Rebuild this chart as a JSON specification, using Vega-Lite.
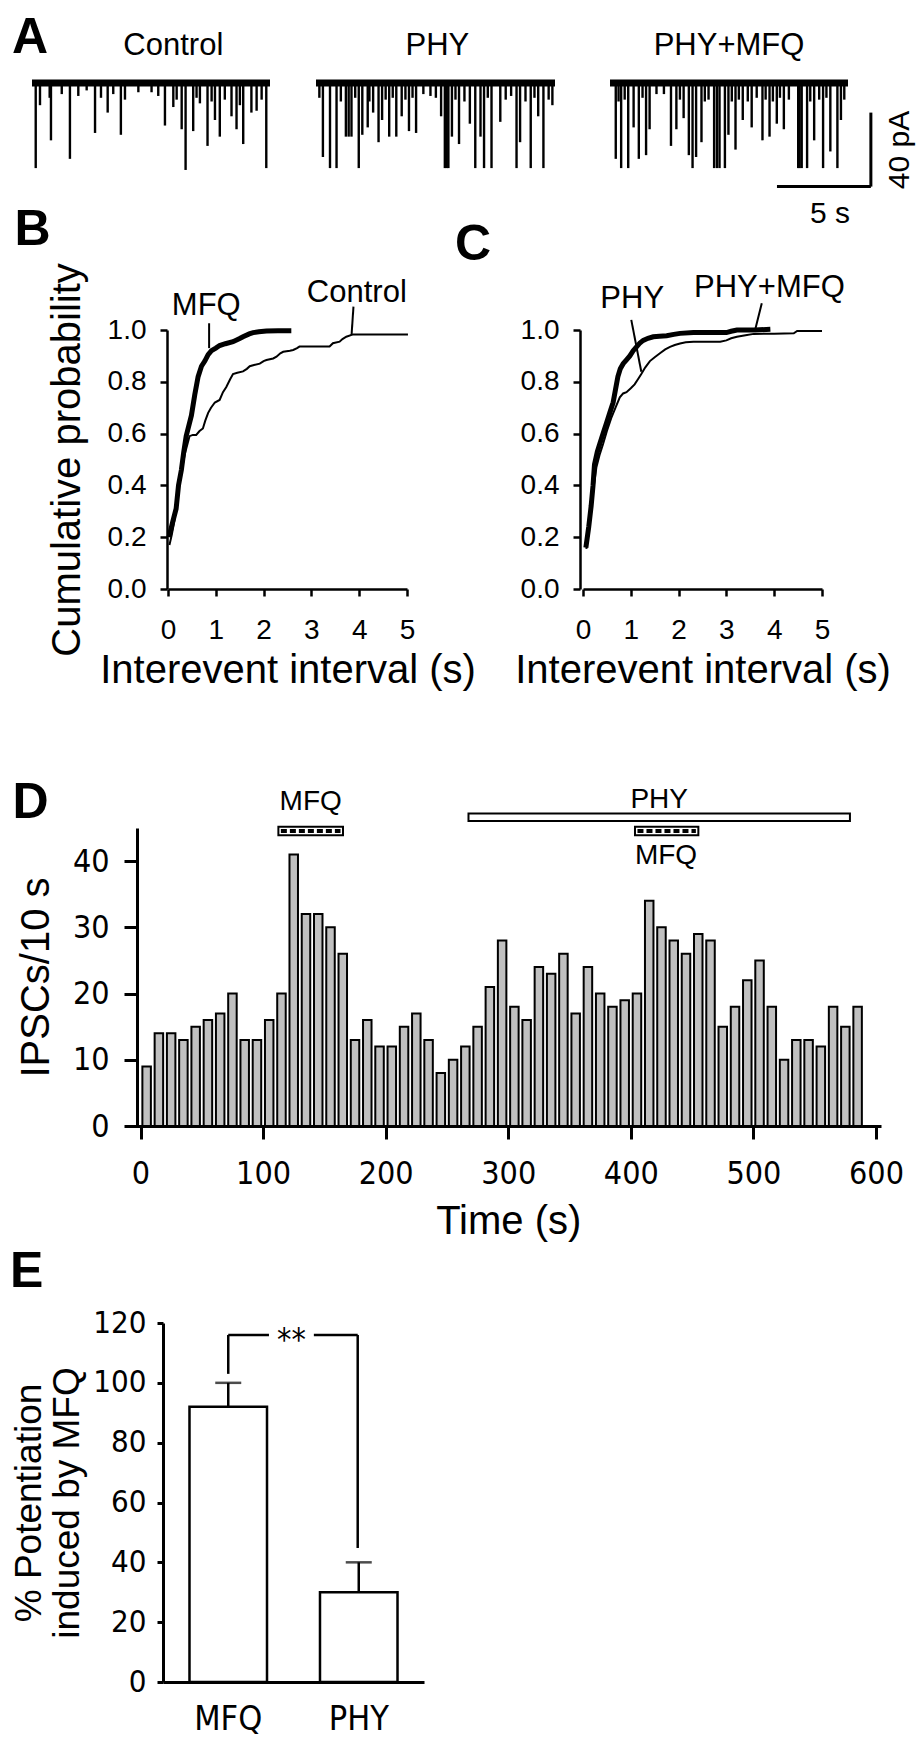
{
"$schema":"https://vega.github.io/schema/vega-lite/v6.json",
"width":919,"height":1737,"autosize":{"type":"none"},"padding":0,"background":"white",
"config":{"view":{"stroke":null},
 "axis":{"grid":false,"domainColor":"black","tickColor":"black","labelColor":"black","titleColor":"black","labelFont":"Liberation Sans","titleFont":"Liberation Sans","titleFontWeight":"normal","domainWidth":2.5,"tickWidth":2.5,"labelFlush":false,"labelOverlap":false},
 "text":{"font":"Liberation Sans","color":"black"},"rule":{"color":"black"},"line":{"color":"black"}},
"datasets":{
 "events":[
  {"trace":"Control","t":0.2,"current":-46},{"trace":"Control","t":0.43,"current":-12},{"trace":"Control","t":0.95,"current":-8},{"trace":"Control","t":1.02,"current":-31},{"trace":"Control","t":1.6,"current":-6},{"trace":"Control","t":2.04,"current":-41},{"trace":"Control","t":2.49,"current":-7},{"trace":"Control","t":2.94,"current":-4},{"trace":"Control","t":3.39,"current":-27},{"trace":"Control","t":3.71,"current":-8},{"trace":"Control","t":4.07,"current":-16},{"trace":"Control","t":4.37,"current":-6},{"trace":"Control","t":4.78,"current":-28},{"trace":"Control","t":5.0,"current":-9},{"trace":"Control","t":5.72,"current":-5},{"trace":"Control","t":6.43,"current":-5},{"trace":"Control","t":6.79,"current":-7},{"trace":"Control","t":7.15,"current":-23},{"trace":"Control","t":7.6,"current":-13},{"trace":"Control","t":7.78,"current":-9},{"trace":"Control","t":8.05,"current":-25},{"trace":"Control","t":8.26,"current":-47},{"trace":"Control","t":8.67,"current":-26},{"trace":"Control","t":8.85,"current":-8},{"trace":"Control","t":9.03,"current":-11},{"trace":"Control","t":9.44,"current":-34},{"trace":"Control","t":9.66,"current":-10},{"trace":"Control","t":9.84,"current":-20},{"trace":"Control","t":10.1,"current":-29},{"trace":"Control","t":10.37,"current":-9},{"trace":"Control","t":10.73,"current":-18},{"trace":"Control","t":11.0,"current":-25},{"trace":"Control","t":11.18,"current":-12},{"trace":"Control","t":11.36,"current":-33},{"trace":"Control","t":11.8,"current":-16},{"trace":"Control","t":12.08,"current":-15},{"trace":"Control","t":12.35,"current":-9},{"trace":"Control","t":12.6,"current":-46},
  {"trace":"PHY","t":0.18,"current":-8},{"trace":"PHY","t":0.37,"current":-40},{"trace":"PHY","t":0.75,"current":-46},{"trace":"PHY","t":1.1,"current":-46},{"trace":"PHY","t":1.33,"current":-10},{"trace":"PHY","t":1.6,"current":-29},{"trace":"PHY","t":1.75,"current":-29},{"trace":"PHY","t":1.9,"current":-29},{"trace":"PHY","t":2.1,"current":-8},{"trace":"PHY","t":2.29,"current":-46},{"trace":"PHY","t":2.48,"current":-28},{"trace":"PHY","t":2.77,"current":-24},{"trace":"PHY","t":2.86,"current":-10},{"trace":"PHY","t":3.06,"current":-16},{"trace":"PHY","t":3.35,"current":-32},{"trace":"PHY","t":3.54,"current":-20},{"trace":"PHY","t":3.73,"current":-9},{"trace":"PHY","t":3.92,"current":-29},{"trace":"PHY","t":4.11,"current":-8},{"trace":"PHY","t":4.3,"current":-29},{"trace":"PHY","t":4.59,"current":-18},{"trace":"PHY","t":4.79,"current":-9},{"trace":"PHY","t":4.98,"current":-26},{"trace":"PHY","t":5.17,"current":-8},{"trace":"PHY","t":5.36,"current":-27},{"trace":"PHY","t":5.75,"current":-6},{"trace":"PHY","t":6.13,"current":-7},{"trace":"PHY","t":6.42,"current":-8},{"trace":"PHY","t":6.7,"current":-18},{"trace":"PHY","t":6.9,"current":-46},{"trace":"PHY","t":7.0,"current":-46},{"trace":"PHY","t":7.09,"current":-46},{"trace":"PHY","t":7.28,"current":-29},{"trace":"PHY","t":7.47,"current":-9},{"trace":"PHY","t":7.66,"current":-33},{"trace":"PHY","t":7.95,"current":-10},{"trace":"PHY","t":8.24,"current":-22},{"trace":"PHY","t":8.53,"current":-46},{"trace":"PHY","t":8.81,"current":-29},{"trace":"PHY","t":9.0,"current":-46},{"trace":"PHY","t":9.2,"current":-8},{"trace":"PHY","t":9.4,"current":-46},{"trace":"PHY","t":9.87,"current":-21},{"trace":"PHY","t":10.16,"current":-9},{"trace":"PHY","t":10.45,"current":-7},{"trace":"PHY","t":10.74,"current":-46},{"trace":"PHY","t":10.93,"current":-32},{"trace":"PHY","t":11.22,"current":-10},{"trace":"PHY","t":11.5,"current":-46},{"trace":"PHY","t":11.7,"current":-8},{"trace":"PHY","t":11.9,"current":-18},{"trace":"PHY","t":12.18,"current":-46},{"trace":"PHY","t":12.46,"current":-9},{"trace":"PHY","t":12.66,"current":-12},
  {"trace":"PHY+MFQ","t":0.31,"current":-41},{"trace":"PHY+MFQ","t":0.46,"current":-10},{"trace":"PHY+MFQ","t":0.6,"current":-46},{"trace":"PHY+MFQ","t":0.79,"current":-9},{"trace":"PHY+MFQ","t":0.98,"current":-46},{"trace":"PHY+MFQ","t":1.27,"current":-24},{"trace":"PHY+MFQ","t":1.55,"current":-41},{"trace":"PHY+MFQ","t":1.75,"current":-8},{"trace":"PHY+MFQ","t":1.94,"current":-39},{"trace":"PHY+MFQ","t":2.13,"current":-25},{"trace":"PHY+MFQ","t":2.5,"current":-6},{"trace":"PHY+MFQ","t":2.9,"current":-6},{"trace":"PHY+MFQ","t":3.28,"current":-34},{"trace":"PHY+MFQ","t":3.57,"current":-25},{"trace":"PHY+MFQ","t":3.76,"current":-9},{"trace":"PHY+MFQ","t":3.96,"current":-19},{"trace":"PHY+MFQ","t":4.24,"current":-39},{"trace":"PHY+MFQ","t":4.44,"current":-46},{"trace":"PHY+MFQ","t":4.63,"current":-40},{"trace":"PHY+MFQ","t":4.92,"current":-32},{"trace":"PHY+MFQ","t":5.1,"current":-10},{"trace":"PHY+MFQ","t":5.3,"current":-9},{"trace":"PHY+MFQ","t":5.6,"current":-46},{"trace":"PHY+MFQ","t":5.75,"current":-46},{"trace":"PHY+MFQ","t":5.89,"current":-46},{"trace":"PHY+MFQ","t":6.18,"current":-46},{"trace":"PHY+MFQ","t":6.37,"current":-28},{"trace":"PHY+MFQ","t":6.55,"current":-10},{"trace":"PHY+MFQ","t":6.75,"current":-36},{"trace":"PHY+MFQ","t":6.93,"current":-9},{"trace":"PHY+MFQ","t":7.14,"current":-20},{"trace":"PHY+MFQ","t":7.41,"current":-10},{"trace":"PHY+MFQ","t":7.62,"current":-24},{"trace":"PHY+MFQ","t":7.89,"current":-8},{"trace":"PHY+MFQ","t":8.2,"current":-31},{"trace":"PHY+MFQ","t":8.37,"current":-9},{"trace":"PHY+MFQ","t":8.58,"current":-29},{"trace":"PHY+MFQ","t":8.76,"current":-10},{"trace":"PHY+MFQ","t":8.97,"current":-22},{"trace":"PHY+MFQ","t":9.14,"current":-8},{"trace":"PHY+MFQ","t":9.35,"current":-25},{"trace":"PHY+MFQ","t":9.62,"current":-9},{"trace":"PHY+MFQ","t":10.12,"current":-46},{"trace":"PHY+MFQ","t":10.2,"current":-46},{"trace":"PHY+MFQ","t":10.31,"current":-46},{"trace":"PHY+MFQ","t":10.6,"current":-46},{"trace":"PHY+MFQ","t":10.77,"current":-10},{"trace":"PHY+MFQ","t":10.98,"current":-31},{"trace":"PHY+MFQ","t":11.25,"current":-9},{"trace":"PHY+MFQ","t":11.46,"current":-46},{"trace":"PHY+MFQ","t":11.64,"current":-8},{"trace":"PHY+MFQ","t":11.85,"current":-37},{"trace":"PHY+MFQ","t":12.23,"current":-46},{"trace":"PHY+MFQ","t":12.42,"current":-20},{"trace":"PHY+MFQ","t":12.6,"current":-9}
 ],
 "cdfB":[
  {"cond":"MFQ","x":0.02,"p":0.2},{"cond":"MFQ","x":0.1,"p":0.26},{"cond":"MFQ","x":0.17,"p":0.31},{"cond":"MFQ","x":0.22,"p":0.4},{"cond":"MFQ","x":0.28,"p":0.46},{"cond":"MFQ","x":0.33,"p":0.53},{"cond":"MFQ","x":0.38,"p":0.59},{"cond":"MFQ","x":0.49,"p":0.67},{"cond":"MFQ","x":0.56,"p":0.75},{"cond":"MFQ","x":0.63,"p":0.82},{"cond":"MFQ","x":0.7,"p":0.86},{"cond":"MFQ","x":0.77,"p":0.88},{"cond":"MFQ","x":0.84,"p":0.905},{"cond":"MFQ","x":0.91,"p":0.92},{"cond":"MFQ","x":1.0,"p":0.93},{"cond":"MFQ","x":1.08,"p":0.94},{"cond":"MFQ","x":1.2,"p":0.947},{"cond":"MFQ","x":1.36,"p":0.955},{"cond":"MFQ","x":1.5,"p":0.967},{"cond":"MFQ","x":1.57,"p":0.974},{"cond":"MFQ","x":1.7,"p":0.985},{"cond":"MFQ","x":1.78,"p":0.99},{"cond":"MFQ","x":1.9,"p":0.993},{"cond":"MFQ","x":2.06,"p":0.996},{"cond":"MFQ","x":2.3,"p":0.997},{"cond":"MFQ","x":2.58,"p":0.997},
  {"cond":"Control","x":0.03,"p":0.17},{"cond":"Control","x":0.08,"p":0.21},{"cond":"Control","x":0.14,"p":0.27},{"cond":"Control","x":0.19,"p":0.35},{"cond":"Control","x":0.24,"p":0.42},{"cond":"Control","x":0.3,"p":0.47},{"cond":"Control","x":0.35,"p":0.52},{"cond":"Control","x":0.45,"p":0.59},{"cond":"Control","x":0.52,"p":0.595},{"cond":"Control","x":0.59,"p":0.595},{"cond":"Control","x":0.66,"p":0.61},{"cond":"Control","x":0.73,"p":0.62},{"cond":"Control","x":0.78,"p":0.65},{"cond":"Control","x":0.84,"p":0.68},{"cond":"Control","x":0.9,"p":0.7},{"cond":"Control","x":0.98,"p":0.72},{"cond":"Control","x":1.08,"p":0.73},{"cond":"Control","x":1.15,"p":0.76},{"cond":"Control","x":1.22,"p":0.78},{"cond":"Control","x":1.3,"p":0.81},{"cond":"Control","x":1.36,"p":0.83},{"cond":"Control","x":1.45,"p":0.835},{"cond":"Control","x":1.57,"p":0.84},{"cond":"Control","x":1.65,"p":0.85},{"cond":"Control","x":1.71,"p":0.86},{"cond":"Control","x":1.8,"p":0.865},{"cond":"Control","x":1.92,"p":0.87},{"cond":"Control","x":2.0,"p":0.88},{"cond":"Control","x":2.06,"p":0.884},{"cond":"Control","x":2.2,"p":0.89},{"cond":"Control","x":2.27,"p":0.897},{"cond":"Control","x":2.35,"p":0.91},{"cond":"Control","x":2.41,"p":0.916},{"cond":"Control","x":2.55,"p":0.92},{"cond":"Control","x":2.62,"p":0.923},{"cond":"Control","x":2.7,"p":0.93},{"cond":"Control","x":2.75,"p":0.936},{"cond":"Control","x":3.0,"p":0.936},{"cond":"Control","x":3.38,"p":0.936},{"cond":"Control","x":3.45,"p":0.949},{"cond":"Control","x":3.59,"p":0.955},{"cond":"Control","x":3.65,"p":0.965},{"cond":"Control","x":3.73,"p":0.974},{"cond":"Control","x":3.87,"p":0.983},{"cond":"Control","x":4.2,"p":0.983},{"cond":"Control","x":5.02,"p":0.983}
 ],
 "cdfC":[
  {"cond":"PHY+MFQ","x":0.06,"p":0.16},{"cond":"PHY+MFQ","x":0.12,"p":0.24},{"cond":"PHY+MFQ","x":0.17,"p":0.32},{"cond":"PHY+MFQ","x":0.21,"p":0.4},{"cond":"PHY+MFQ","x":0.24,"p":0.48},{"cond":"PHY+MFQ","x":0.3,"p":0.53},{"cond":"PHY+MFQ","x":0.35,"p":0.56},{"cond":"PHY+MFQ","x":0.42,"p":0.6},{"cond":"PHY+MFQ","x":0.49,"p":0.64},{"cond":"PHY+MFQ","x":0.56,"p":0.68},{"cond":"PHY+MFQ","x":0.63,"p":0.72},{"cond":"PHY+MFQ","x":0.68,"p":0.77},{"cond":"PHY+MFQ","x":0.73,"p":0.82},{"cond":"PHY+MFQ","x":0.78,"p":0.85},{"cond":"PHY+MFQ","x":0.84,"p":0.87},{"cond":"PHY+MFQ","x":0.91,"p":0.885},{"cond":"PHY+MFQ","x":0.98,"p":0.9},{"cond":"PHY+MFQ","x":1.05,"p":0.92},{"cond":"PHY+MFQ","x":1.12,"p":0.935},{"cond":"PHY+MFQ","x":1.19,"p":0.95},{"cond":"PHY+MFQ","x":1.26,"p":0.96},{"cond":"PHY+MFQ","x":1.36,"p":0.968},{"cond":"PHY+MFQ","x":1.47,"p":0.974},{"cond":"PHY+MFQ","x":1.6,"p":0.976},{"cond":"PHY+MFQ","x":1.75,"p":0.978},{"cond":"PHY+MFQ","x":1.9,"p":0.983},{"cond":"PHY+MFQ","x":2.03,"p":0.987},{"cond":"PHY+MFQ","x":2.31,"p":0.99},{"cond":"PHY+MFQ","x":2.6,"p":0.99},{"cond":"PHY+MFQ","x":3.0,"p":0.99},{"cond":"PHY+MFQ","x":3.1,"p":0.995},{"cond":"PHY+MFQ","x":3.22,"p":1.0},{"cond":"PHY+MFQ","x":3.6,"p":1.0},{"cond":"PHY+MFQ","x":3.92,"p":1.003},
  {"cond":"PHY","x":0.07,"p":0.155},{"cond":"PHY","x":0.12,"p":0.22},{"cond":"PHY","x":0.17,"p":0.3},{"cond":"PHY","x":0.22,"p":0.39},{"cond":"PHY","x":0.28,"p":0.47},{"cond":"PHY","x":0.35,"p":0.52},{"cond":"PHY","x":0.42,"p":0.56},{"cond":"PHY","x":0.5,"p":0.61},{"cond":"PHY","x":0.59,"p":0.66},{"cond":"PHY","x":0.68,"p":0.7},{"cond":"PHY","x":0.77,"p":0.74},{"cond":"PHY","x":0.84,"p":0.755},{"cond":"PHY","x":0.91,"p":0.76},{"cond":"PHY","x":1.0,"p":0.775},{"cond":"PHY","x":1.08,"p":0.79},{"cond":"PHY","x":1.15,"p":0.81},{"cond":"PHY","x":1.22,"p":0.83},{"cond":"PHY","x":1.3,"p":0.855},{"cond":"PHY","x":1.4,"p":0.88},{"cond":"PHY","x":1.5,"p":0.895},{"cond":"PHY","x":1.61,"p":0.91},{"cond":"PHY","x":1.72,"p":0.925},{"cond":"PHY","x":1.82,"p":0.935},{"cond":"PHY","x":1.92,"p":0.942},{"cond":"PHY","x":2.03,"p":0.948},{"cond":"PHY","x":2.15,"p":0.953},{"cond":"PHY","x":2.31,"p":0.955},{"cond":"PHY","x":2.6,"p":0.955},{"cond":"PHY","x":2.87,"p":0.955},{"cond":"PHY","x":3.0,"p":0.96},{"cond":"PHY","x":3.1,"p":0.968},{"cond":"PHY","x":3.22,"p":0.974},{"cond":"PHY","x":3.4,"p":0.98},{"cond":"PHY","x":3.57,"p":0.985},{"cond":"PHY","x":4.0,"p":0.986},{"cond":"PHY","x":4.41,"p":0.987},{"cond":"PHY","x":4.48,"p":0.996},{"cond":"PHY","x":5.0,"p":0.996}
 ],
 "ipsc":[
  {"time":5,"count":9},{"time":15,"count":14},{"time":25,"count":14},{"time":35,"count":13},{"time":45,"count":15},{"time":55,"count":16},{"time":65,"count":17},{"time":75,"count":20},{"time":85,"count":13},{"time":95,"count":13},{"time":105,"count":16},{"time":115,"count":20},{"time":125,"count":41},{"time":135,"count":32},{"time":145,"count":32},{"time":155,"count":30},{"time":165,"count":26},{"time":175,"count":13},{"time":185,"count":16},{"time":195,"count":12},{"time":205,"count":12},{"time":215,"count":15},{"time":225,"count":17},{"time":235,"count":13},{"time":245,"count":8},{"time":255,"count":10},{"time":265,"count":12},{"time":275,"count":15},{"time":285,"count":21},{"time":295,"count":28},{"time":305,"count":18},{"time":315,"count":16},{"time":325,"count":24},{"time":335,"count":23},{"time":345,"count":26},{"time":355,"count":17},{"time":365,"count":24},{"time":375,"count":20},{"time":385,"count":18},{"time":395,"count":19},{"time":405,"count":20},{"time":415,"count":34},{"time":425,"count":30},{"time":435,"count":28},{"time":445,"count":26},{"time":455,"count":29},{"time":465,"count":28},{"time":475,"count":15},{"time":485,"count":18},{"time":495,"count":22},{"time":505,"count":25},{"time":515,"count":18},{"time":525,"count":10},{"time":535,"count":13},{"time":545,"count":13},{"time":555,"count":12},{"time":565,"count":18},{"time":575,"count":15},{"time":585,"count":18}
 ],
 "potentiation":[{"group":"MFQ","mean":92,"upper":100},{"group":"PHY","mean":30,"upper":40}]
},
"resolve":{"scale":{"x":"independent","y":"independent"},"axis":{"x":"independent","y":"independent"}},
"layer":[
 {"data":{"name":"events"},"transform":[{"filter":{"field":"trace","equal":"Control"}}],"mark":{"type":"rule","strokeWidth":2.4},
  "encoding":{"x":{"field":"t","type":"quantitative","scale":{"domain":[0,12.8],"range":[32,270],"nice":false,"zero":false},"axis":null},
   "y":{"field":"current","type":"quantitative","scale":{"domain":[-60,10],"range":[194,64.5],"nice":false,"zero":false},"axis":null},"y2":{"datum":0}}},
 {"data":{"name":"events"},"transform":[{"filter":{"field":"trace","equal":"PHY"}}],"mark":{"type":"rule","strokeWidth":2.4},
  "encoding":{"x":{"field":"t","type":"quantitative","scale":{"domain":[0,12.8],"range":[316,555],"nice":false,"zero":false},"axis":null},
   "y":{"field":"current","type":"quantitative","scale":{"domain":[-60,10],"range":[194,64.5],"nice":false,"zero":false},"axis":null},"y2":{"datum":0}}},
 {"data":{"name":"events"},"transform":[{"filter":{"field":"trace","equal":"PHY+MFQ"}}],"mark":{"type":"rule","strokeWidth":2.4},
  "encoding":{"x":{"field":"t","type":"quantitative","scale":{"domain":[0,12.8],"range":[610,848],"nice":false,"zero":false},"axis":null},
   "y":{"field":"current","type":"quantitative","scale":{"domain":[-60,10],"range":[194,64.5],"nice":false,"zero":false},"axis":null},"y2":{"datum":0}}},
 {"data":{"values":[{}]},"mark":{"type":"rule","strokeWidth":7},"encoding":{"x":{"datum":0,"type":"quantitative","scale":{"domain":[0,12.8],"range":[32,270],"nice":false,"zero":false},"axis":null},"x2":{"datum":12.8},"y":{"datum":0,"type":"quantitative","scale":{"domain":[-60,10],"range":[194,64.5],"nice":false,"zero":false},"axis":null}}},
 {"data":{"values":[{}]},"mark":{"type":"rule","strokeWidth":7},"encoding":{"x":{"datum":0,"type":"quantitative","scale":{"domain":[0,12.8],"range":[316,555],"nice":false,"zero":false},"axis":null},"x2":{"datum":12.8},"y":{"datum":0,"type":"quantitative","scale":{"domain":[-60,10],"range":[194,64.5],"nice":false,"zero":false},"axis":null}}},
 {"data":{"values":[{}]},"mark":{"type":"rule","strokeWidth":7},"encoding":{"x":{"datum":0,"type":"quantitative","scale":{"domain":[0,12.8],"range":[610,848],"nice":false,"zero":false},"axis":null},"x2":{"datum":12.8},"y":{"datum":0,"type":"quantitative","scale":{"domain":[-60,10],"range":[194,64.5],"nice":false,"zero":false},"axis":null}}},
 {"data":{"values":[{}]},"mark":{"type":"text","fontSize":31,"align":"center","baseline":"alphabetic"},"encoding":{"x":{"datum":7.6,"type":"quantitative","scale":{"domain":[0,12.8],"range":[32,270],"nice":false,"zero":false},"axis":null},"y":{"datum":15.1,"type":"quantitative","scale":{"domain":[-60,10],"range":[194,64.5],"nice":false,"zero":false},"axis":null},"text":{"value":"Control"}}},
 {"data":{"values":[{}]},"mark":{"type":"text","fontSize":31,"align":"center","baseline":"alphabetic"},"encoding":{"x":{"datum":6.5,"type":"quantitative","scale":{"domain":[0,12.8],"range":[316,555],"nice":false,"zero":false},"axis":null},"y":{"datum":15.1,"type":"quantitative","scale":{"domain":[-60,10],"range":[194,64.5],"nice":false,"zero":false},"axis":null},"text":{"value":"PHY"}}},
 {"data":{"values":[{}]},"mark":{"type":"text","fontSize":31,"align":"center","baseline":"alphabetic"},"encoding":{"x":{"datum":6.4,"type":"quantitative","scale":{"domain":[0,12.8],"range":[610,848],"nice":false,"zero":false},"axis":null},"y":{"datum":15.1,"type":"quantitative","scale":{"domain":[-60,10],"range":[194,64.5],"nice":false,"zero":false},"axis":null},"text":{"value":"PHY+MFQ"}}},
 {"data":{"values":[{}]},"mark":{"type":"text","fontSize":50,"fontWeight":"bold","align":"left","baseline":"alphabetic"},"encoding":{"x":{"datum":-1.075,"type":"quantitative","scale":{"domain":[0,12.8],"range":[32,270],"nice":false,"zero":false},"axis":null},"y":{"datum":16.2,"type":"quantitative","scale":{"domain":[-60,10],"range":[194,64.5],"nice":false,"zero":false},"axis":null},"text":{"value":"A"}}},
 {"data":{"values":[{}]},"mark":{"type":"rule","strokeWidth":3},"encoding":{"x":{"datum":8.98,"type":"quantitative","scale":{"domain":[0,12.8],"range":[610,848],"nice":false,"zero":false},"axis":null},"x2":{"datum":14.03},"y":{"datum":-56,"type":"quantitative","scale":{"domain":[-60,10],"range":[194,64.5],"nice":false,"zero":false},"axis":null}}},
 {"data":{"values":[{}]},"mark":{"type":"rule","strokeWidth":3},"encoding":{"x":{"datum":14.03,"type":"quantitative","scale":{"domain":[0,12.8],"range":[610,848],"nice":false,"zero":false},"axis":null},"y":{"datum":-16,"type":"quantitative","scale":{"domain":[-60,10],"range":[194,64.5],"nice":false,"zero":false},"axis":null},"y2":{"datum":-56}}},
 {"data":{"values":[{}]},"mark":{"type":"text","fontSize":30,"align":"center","baseline":"alphabetic"},"encoding":{"x":{"datum":11.83,"type":"quantitative","scale":{"domain":[0,12.8],"range":[610,848],"nice":false,"zero":false},"axis":null},"y":{"datum":-75.7,"type":"quantitative","scale":{"domain":[-60,10],"range":[194,64.5],"nice":false,"zero":false},"axis":null},"text":{"value":"5 s"}}},
 {"data":{"values":[{}]},"mark":{"type":"text","fontSize":30,"align":"center","baseline":"middle","angle":270},"encoding":{"x":{"datum":15.6,"type":"quantitative","scale":{"domain":[0,12.8],"range":[610,848],"nice":false,"zero":false},"axis":null},"y":{"datum":-36.2,"type":"quantitative","scale":{"domain":[-60,10],"range":[194,64.5],"nice":false,"zero":false},"axis":null},"text":{"value":"40 pA"}}},

 {"data":{"name":"cdfB"},"transform":[{"filter":{"field":"cond","equal":"MFQ"}}],"mark":{"type":"line","strokeWidth":5},
  "encoding":{"x":{"field":"x","type":"quantitative","scale":{"domain":[0,5],"range":[168,407],"nice":false,"zero":false},
    "axis":{"orient":"bottom","offset":-1148,"values":[0,1,2,3,4,5],"tickSize":7,"labelFontSize":28,"labelPadding":20,"title":"Interevent interval (s)","titleFontSize":40,"titlePadding":6}},
   "y":{"field":"p","type":"quantitative","scale":{"domain":[0,1],"range":[589,330],"nice":false,"zero":false},
    "axis":{"orient":"left","offset":-167,"values":[0,0.2,0.4,0.6,0.8,1],"format":".1f","tickSize":7,"labelFontSize":28,"labelPadding":14,"title":"Cumulative probability","titleFontSize":40,"titlePadding":20}}}},
 {"data":{"name":"cdfB"},"transform":[{"filter":{"field":"cond","equal":"Control"}}],"mark":{"type":"line","strokeWidth":2},
  "encoding":{"x":{"field":"x","type":"quantitative","scale":{"domain":[0,5],"range":[168,407],"nice":false,"zero":false},"axis":null},
   "y":{"field":"p","type":"quantitative","scale":{"domain":[0,1],"range":[589,330],"nice":false,"zero":false},"axis":null}}},
 {"data":{"values":[{}]},"mark":{"type":"rule","strokeWidth":2},"encoding":{"x":{"datum":0.86,"type":"quantitative","scale":{"domain":[0,5],"range":[168,407],"nice":false,"zero":false},"axis":null},"y":{"datum":1.026,"type":"quantitative","scale":{"domain":[0,1],"range":[589,330],"nice":false,"zero":false},"axis":null},"y2":{"datum":0.93}}},
 {"data":{"values":[{}]},"mark":{"type":"rule","strokeWidth":2},"encoding":{"x":{"datum":3.88,"type":"quantitative","scale":{"domain":[0,5],"range":[168,407],"nice":false,"zero":false},"axis":null},"x2":{"datum":3.84},"y":{"datum":1.09,"type":"quantitative","scale":{"domain":[0,1],"range":[589,330],"nice":false,"zero":false},"axis":null},"y2":{"datum":0.98}}},
 {"data":{"values":[{}]},"mark":{"type":"text","fontSize":31,"align":"center","baseline":"alphabetic"},"encoding":{"x":{"datum":0.8,"type":"quantitative","scale":{"domain":[0,5],"range":[168,407],"nice":false,"zero":false},"axis":null},"y":{"datum":1.058,"type":"quantitative","scale":{"domain":[0,1],"range":[589,330],"nice":false,"zero":false},"axis":null},"text":{"value":"MFQ"}}},
 {"data":{"values":[{}]},"mark":{"type":"text","fontSize":31,"align":"center","baseline":"alphabetic"},"encoding":{"x":{"datum":3.95,"type":"quantitative","scale":{"domain":[0,5],"range":[168,407],"nice":false,"zero":false},"axis":null},"y":{"datum":1.109,"type":"quantitative","scale":{"domain":[0,1],"range":[589,330],"nice":false,"zero":false},"axis":null},"text":{"value":"Control"}}},
 {"data":{"values":[{}]},"mark":{"type":"text","fontSize":50,"fontWeight":"bold","align":"left","baseline":"alphabetic"},"encoding":{"x":{"datum":-3.21,"type":"quantitative","scale":{"domain":[0,5],"range":[168,407],"nice":false,"zero":false},"axis":null},"y":{"datum":1.33,"type":"quantitative","scale":{"domain":[0,1],"range":[589,330],"nice":false,"zero":false},"axis":null},"text":{"value":"B"}}},

 {"data":{"name":"cdfC"},"transform":[{"filter":{"field":"cond","equal":"PHY+MFQ"}}],"mark":{"type":"line","strokeWidth":5},
  "encoding":{"x":{"field":"x","type":"quantitative","scale":{"domain":[0,5],"range":[583,822],"nice":false,"zero":false},
    "axis":{"orient":"bottom","offset":-1148,"values":[0,1,2,3,4,5],"tickSize":7,"labelFontSize":28,"labelPadding":20,"title":"Interevent interval (s)","titleFontSize":40,"titlePadding":6}},
   "y":{"field":"p","type":"quantitative","scale":{"domain":[0,1],"range":[589,330],"nice":false,"zero":false},
    "axis":{"orient":"left","offset":-580,"values":[0,0.2,0.4,0.6,0.8,1],"format":".1f","tickSize":7,"labelFontSize":28,"labelPadding":14,"title":null}}}},
 {"data":{"name":"cdfC"},"transform":[{"filter":{"field":"cond","equal":"PHY"}}],"mark":{"type":"line","strokeWidth":2},
  "encoding":{"x":{"field":"x","type":"quantitative","scale":{"domain":[0,5],"range":[583,822],"nice":false,"zero":false},"axis":null},
   "y":{"field":"p","type":"quantitative","scale":{"domain":[0,1],"range":[589,330],"nice":false,"zero":false},"axis":null}}},
 {"data":{"values":[{}]},"mark":{"type":"rule","strokeWidth":2},"encoding":{"x":{"datum":1.01,"type":"quantitative","scale":{"domain":[0,5],"range":[583,822],"nice":false,"zero":false},"axis":null},"x2":{"datum":1.22},"y":{"datum":1.039,"type":"quantitative","scale":{"domain":[0,1],"range":[589,330],"nice":false,"zero":false},"axis":null},"y2":{"datum":0.839}}},
 {"data":{"values":[{}]},"mark":{"type":"rule","strokeWidth":2},"encoding":{"x":{"datum":3.74,"type":"quantitative","scale":{"domain":[0,5],"range":[583,822],"nice":false,"zero":false},"axis":null},"x2":{"datum":3.6},"y":{"datum":1.103,"type":"quantitative","scale":{"domain":[0,1],"range":[589,330],"nice":false,"zero":false},"axis":null},"y2":{"datum":1.0}}},
 {"data":{"values":[{}]},"mark":{"type":"text","fontSize":31,"align":"center","baseline":"alphabetic"},"encoding":{"x":{"datum":1.03,"type":"quantitative","scale":{"domain":[0,5],"range":[583,822],"nice":false,"zero":false},"axis":null},"y":{"datum":1.084,"type":"quantitative","scale":{"domain":[0,1],"range":[589,330],"nice":false,"zero":false},"axis":null},"text":{"value":"PHY"}}},
 {"data":{"values":[{}]},"mark":{"type":"text","fontSize":31,"align":"center","baseline":"alphabetic"},"encoding":{"x":{"datum":3.9,"type":"quantitative","scale":{"domain":[0,5],"range":[583,822],"nice":false,"zero":false},"axis":null},"y":{"datum":1.126,"type":"quantitative","scale":{"domain":[0,1],"range":[589,330],"nice":false,"zero":false},"axis":null},"text":{"value":"PHY+MFQ"}}},
 {"data":{"values":[{}]},"mark":{"type":"text","fontSize":50,"fontWeight":"bold","align":"left","baseline":"alphabetic"},"encoding":{"x":{"datum":-2.68,"type":"quantitative","scale":{"domain":[0,5],"range":[583,822],"nice":false,"zero":false},"axis":null},"y":{"datum":1.27,"type":"quantitative","scale":{"domain":[0,1],"range":[589,330],"nice":false,"zero":false},"axis":null},"text":{"value":"C"}}},

 {"data":{"name":"ipsc"},"mark":{"type":"bar","width":8.5,"fill":"#c0c0c0","stroke":"black","strokeWidth":2},
  "encoding":{"x":{"field":"time","type":"quantitative","scale":{"domain":[0,600],"range":[135.5,881],"nice":false,"zero":false},
    "axis":{"orient":"bottom","offset":-611,"values":[0,100,200,300,400,500,600],"tickSize":13,"domainWidth":3,"tickWidth":3,"labelFont":"Liberation Sans Narrow, Arial Narrow, DejaVu Sans Condensed, sans-serif","labelFontSize":32,"labelPadding":19,"title":"Time (s)","titleFontSize":40,"titlePadding":12}},
   "y":{"field":"count","type":"quantitative","scale":{"domain":[0,45],"range":[1126,828],"nice":false,"zero":false},
    "axis":{"orient":"left","offset":-137,"values":[0,10,20,30,40],"tickSize":13,"domainWidth":3,"tickWidth":3,"labelFont":"Liberation Sans Narrow, Arial Narrow, DejaVu Sans Condensed, sans-serif","labelFontSize":32,"labelPadding":15,"title":"IPSCs/10 s","titleFontSize":40,"titlePadding":16}}}},
 {"data":{"values":[{}]},"mark":{"type":"rect","fill":"white","stroke":"black","strokeWidth":2},"encoding":{"x":{"datum":115,"type":"quantitative","scale":{"domain":[0,600],"range":[135.5,881],"nice":false,"zero":false},"axis":null},"x2":{"datum":167},"y":{"datum":45.2,"type":"quantitative","scale":{"domain":[0,45],"range":[1126,828],"nice":false,"zero":false},"axis":null},"y2":{"datum":43.9}}},
 {"data":{"values":[{}]},"mark":{"type":"rule","strokeWidth":4,"strokeDash":[6,3]},"encoding":{"x":{"datum":117,"type":"quantitative","scale":{"domain":[0,600],"range":[135.5,881],"nice":false,"zero":false},"axis":null},"x2":{"datum":165},"y":{"datum":44.55,"type":"quantitative","scale":{"domain":[0,45],"range":[1126,828],"nice":false,"zero":false},"axis":null}}},
 {"data":{"values":[{}]},"mark":{"type":"rect","fill":"white","stroke":"black","strokeWidth":2},"encoding":{"x":{"datum":268,"type":"quantitative","scale":{"domain":[0,600],"range":[135.5,881],"nice":false,"zero":false},"axis":null},"x2":{"datum":575},"y":{"datum":47.2,"type":"quantitative","scale":{"domain":[0,45],"range":[1126,828],"nice":false,"zero":false},"axis":null},"y2":{"datum":46.04}}},
 {"data":{"values":[{}]},"mark":{"type":"rect","fill":"white","stroke":"black","strokeWidth":2},"encoding":{"x":{"datum":402,"type":"quantitative","scale":{"domain":[0,600],"range":[135.5,881],"nice":false,"zero":false},"axis":null},"x2":{"datum":453},"y":{"datum":45.2,"type":"quantitative","scale":{"domain":[0,45],"range":[1126,828],"nice":false,"zero":false},"axis":null},"y2":{"datum":43.9}}},
 {"data":{"values":[{}]},"mark":{"type":"rule","strokeWidth":4,"strokeDash":[6,3]},"encoding":{"x":{"datum":404,"type":"quantitative","scale":{"domain":[0,600],"range":[135.5,881],"nice":false,"zero":false},"axis":null},"x2":{"datum":451},"y":{"datum":44.55,"type":"quantitative","scale":{"domain":[0,45],"range":[1126,828],"nice":false,"zero":false},"axis":null}}},
 {"data":{"values":[{}]},"mark":{"type":"text","fontSize":28,"align":"center","baseline":"alphabetic"},"encoding":{"x":{"datum":141,"type":"quantitative","scale":{"domain":[0,600],"range":[135.5,881],"nice":false,"zero":false},"axis":null},"y":{"datum":47.7,"type":"quantitative","scale":{"domain":[0,45],"range":[1126,828],"nice":false,"zero":false},"axis":null},"text":{"value":"MFQ"}}},
 {"data":{"values":[{}]},"mark":{"type":"text","fontSize":28,"align":"center","baseline":"alphabetic"},"encoding":{"x":{"datum":421.5,"type":"quantitative","scale":{"domain":[0,600],"range":[135.5,881],"nice":false,"zero":false},"axis":null},"y":{"datum":48.0,"type":"quantitative","scale":{"domain":[0,45],"range":[1126,828],"nice":false,"zero":false},"axis":null},"text":{"value":"PHY"}}},
 {"data":{"values":[{}]},"mark":{"type":"text","fontSize":28,"align":"center","baseline":"alphabetic"},"encoding":{"x":{"datum":427,"type":"quantitative","scale":{"domain":[0,600],"range":[135.5,881],"nice":false,"zero":false},"axis":null},"y":{"datum":39.6,"type":"quantitative","scale":{"domain":[0,45],"range":[1126,828],"nice":false,"zero":false},"axis":null},"text":{"value":"MFQ"}}},
 {"data":{"values":[{}]},"mark":{"type":"text","fontSize":50,"fontWeight":"bold","align":"left","baseline":"alphabetic"},"encoding":{"x":{"datum":-99,"type":"quantitative","scale":{"domain":[0,600],"range":[135.5,881],"nice":false,"zero":false},"axis":null},"y":{"datum":46.5,"type":"quantitative","scale":{"domain":[0,45],"range":[1126,828],"nice":false,"zero":false},"axis":null},"text":{"value":"D"}}},

 {"data":{"name":"potentiation"},"mark":{"type":"bar","fill":"white","stroke":"black","strokeWidth":2.5},
  "encoding":{"x":{"field":"group","type":"nominal","scale":{"domain":["MFQ","PHY"],"range":[163,424],"paddingInner":0.406,"paddingOuter":0.203},
    "axis":{"orient":"bottom","offset":-55,"ticks":false,"domainWidth":3,"labelAngle":0,"labelFont":"Liberation Sans Narrow, Arial Narrow, DejaVu Sans Condensed, sans-serif","labelFontSize":34,"labelPadding":20,"title":null}},
   "y":{"field":"mean","type":"quantitative","scale":{"domain":[0,120],"range":[1682,1323],"nice":false,"zero":false},
    "axis":{"orient":"left","offset":-163,"values":[0,20,40,60,80,100,120],"tickSize":6,"domainWidth":3,"tickWidth":3,"labelFont":"Liberation Sans Narrow, Arial Narrow, DejaVu Sans Condensed, sans-serif","labelFontSize":31,"labelPadding":11,"title":["% Potentiation","induced by MFQ"],"titleFontSize":37,"titleLineHeight":38,"titlePadding":6}}}},
 {"data":{"name":"potentiation"},"mark":{"type":"rule","strokeWidth":2.5},"encoding":{"x":{"field":"group","type":"nominal","scale":{"domain":["MFQ","PHY"],"range":[163,424],"paddingInner":0.406,"paddingOuter":0.203},"axis":null},"y":{"field":"mean","type":"quantitative","scale":{"domain":[0,120],"range":[1682,1323],"nice":false,"zero":false},"axis":null},"y2":{"field":"upper"}}},
 {"data":{"name":"potentiation"},"mark":{"type":"tick","thickness":2.5,"size":26,"color":"black"},"encoding":{"x":{"field":"group","type":"nominal","scale":{"domain":["MFQ","PHY"],"range":[163,424],"paddingInner":0.406,"paddingOuter":0.203},"axis":null},"y":{"field":"upper","type":"quantitative","scale":{"domain":[0,120],"range":[1682,1323],"nice":false,"zero":false},"axis":null}}},
 {"data":{"values":[{}]},"mark":{"type":"rule","strokeWidth":2.5},"encoding":{"x":{"datum":0.25,"type":"quantitative","scale":{"domain":[0,1],"range":[163,424],"nice":false,"zero":false},"axis":null},"y":{"datum":103,"type":"quantitative","scale":{"domain":[0,120],"range":[1682,1323],"nice":false,"zero":false},"axis":null},"y2":{"datum":116}}},
 {"data":{"values":[{}]},"mark":{"type":"rule","strokeWidth":2.5},"encoding":{"x":{"datum":0.25,"type":"quantitative","scale":{"domain":[0,1],"range":[163,424],"nice":false,"zero":false},"axis":null},"x2":{"datum":0.406},"y":{"datum":116,"type":"quantitative","scale":{"domain":[0,120],"range":[1682,1323],"nice":false,"zero":false},"axis":null}}},
 {"data":{"values":[{}]},"mark":{"type":"rule","strokeWidth":2.5},"encoding":{"x":{"datum":0.578,"type":"quantitative","scale":{"domain":[0,1],"range":[163,424],"nice":false,"zero":false},"axis":null},"x2":{"datum":0.746},"y":{"datum":116,"type":"quantitative","scale":{"domain":[0,120],"range":[1682,1323],"nice":false,"zero":false},"axis":null}}},
 {"data":{"values":[{}]},"mark":{"type":"rule","strokeWidth":2.5},"encoding":{"x":{"datum":0.746,"type":"quantitative","scale":{"domain":[0,1],"range":[163,424],"nice":false,"zero":false},"axis":null},"y":{"datum":116,"type":"quantitative","scale":{"domain":[0,120],"range":[1682,1323],"nice":false,"zero":false},"axis":null},"y2":{"datum":44.8}}},
 {"data":{"values":[{}]},"mark":{"type":"text","fontSize":32,"align":"center","baseline":"alphabetic","font":"Liberation Sans Narrow, Arial Narrow, DejaVu Sans Condensed, sans-serif"},"encoding":{"x":{"datum":0.492,"type":"quantitative","scale":{"domain":[0,1],"range":[163,424],"nice":false,"zero":false},"axis":null},"y":{"datum":111,"type":"quantitative","scale":{"domain":[0,120],"range":[1682,1323],"nice":false,"zero":false},"axis":null},"text":{"value":"**"}}},
 {"data":{"values":[{}]},"mark":{"type":"text","fontSize":50,"fontWeight":"bold","align":"left","baseline":"alphabetic"},"encoding":{"x":{"datum":-0.586,"type":"quantitative","scale":{"domain":[0,1],"range":[163,424],"nice":false,"zero":false},"axis":null},"y":{"datum":132,"type":"quantitative","scale":{"domain":[0,120],"range":[1682,1323],"nice":false,"zero":false},"axis":null},"text":{"value":"E"}}}
]
}
